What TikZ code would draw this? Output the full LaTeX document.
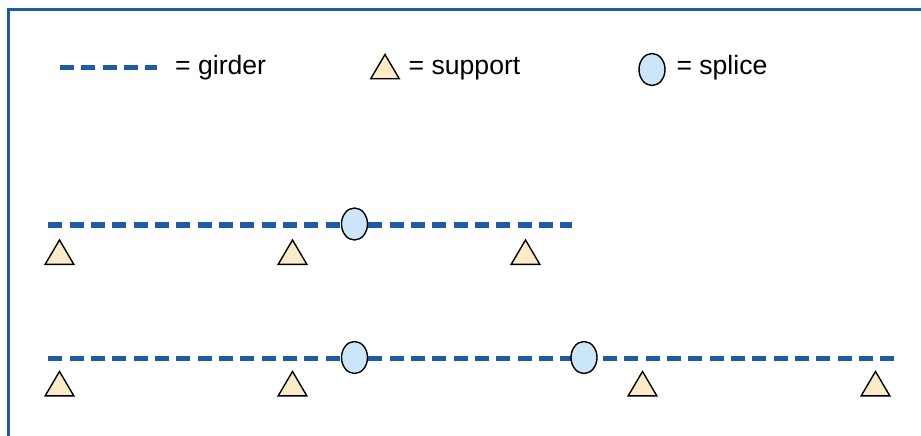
\documentclass[tikz,border=0pt]{standalone}
\usepackage{fontspec}
\setmainfont{Liberation Sans}
\usetikzlibrary{shapes.geometric}
\definecolor{gblue}{HTML}{1F5AA6}
\definecolor{frameblue}{HTML}{1F5AA6}
\definecolor{supfill}{HTML}{FDEBC8}
\definecolor{splfill}{HTML}{CCE6F9}
\tikzset{
  girder/.style={draw=gblue,line width=5.2pt,dash pattern=on 14pt off 7.33pt},
  frameline/.style={draw=frameblue,line width=2.8pt},
  splice/.style={ellipse,draw=black,fill=splfill,line width=1.4pt,minimum width=26pt,minimum height=32pt,inner sep=0pt},
  support/.style={draw=black,fill=supfill,line width=1.4pt,line join=miter},
  lbl/.style={anchor=base west,inner sep=0pt,font=\fontsize{26.6}{30}\selectfont,text=black}
}
\newcommand{\suppt}[2]{\draw[support] (#1,#2) -- (#1-14.3,#2+24.3) -- (#1+14.3,#2+24.3) -- cycle;}
\begin{document}
\begin{tikzpicture}[x=1pt,y=-1pt]
\useasboundingbox (0,0) rectangle (921,436);
\draw[frameline] (8.3,436) -- (8.3,9.3) -- (921,9.3);
% legend
\coordinate (lg1) at (60,67.5);
\coordinate (lg2) at (157,67.5);
\draw[girder] (lg1) -- (lg2);
\node[lbl] (t1) at (175,74.4) {= girder};
\suppt{385}{54.5}
\node[lbl] (t2) at (408.5,74.4) {= support};
\node[splice] (ls) at (652,69.5) {};
\node[lbl] (t3) at (676.3,74.4) {= splice};
% row 1
\coordinate (a1) at (48.3,225);
\coordinate (a2) at (572,225);
\draw[girder] (a1) -- (a2);
\node[splice] (s1) at (354.5,224) {};
\suppt{59.5}{240}
\suppt{292.5}{240}
\suppt{525.5}{240}
% row 2
\coordinate (b1) at (48.3,358.5);
\coordinate (b2) at (895,358.5);
\draw[girder] (b1) -- (b2);
\node[splice] (s2) at (354.5,357.5) {};
\node[splice] (s3) at (584,357.5) {};
\suppt{59.5}{371.5}
\suppt{292.5}{371.5}
\suppt{642.5}{371.5}
\suppt{875.5}{371.5}
\end{tikzpicture}
\end{document}
